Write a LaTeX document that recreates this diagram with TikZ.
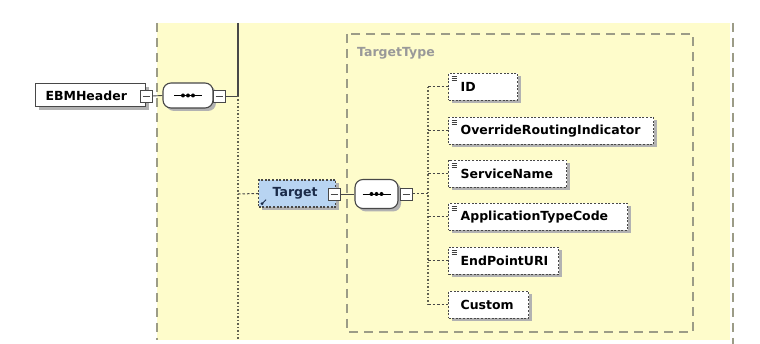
\documentclass[tikz,border=0pt]{standalone}
\usepackage{fontspec}
\setmainfont{DejaVu Sans}
\usetikzlibrary{shadows}
\definecolor{bgyellow}{HTML}{FEFCCB}
\definecolor{lineg}{HTML}{8A8A72}
\definecolor{tblue}{HTML}{B8D4F2}
\definecolor{boxd}{HTML}{484848}
\definecolor{ttext}{HTML}{1A2A48}
\begin{document}
\begin{tikzpicture}[x=1pt,y=-1pt,
  font=\fontsize{12.5}{14}\selectfont\bfseries,
  shad/.style={drop shadow={shadow xshift=3pt,shadow yshift=-3pt,fill=black!30,opacity=1}},
  ebmbox/.style={draw=boxd, line width=1pt, fill=white, shad, anchor=west,
     minimum height=23pt, inner xsep=0pt, align=left},
  optbox/.style={draw=boxd, line width=1.3pt, dash pattern=on 2pt off 1.6pt,
     fill=white, shad, anchor=west, minimum height=27pt, inner xsep=0pt, align=left},
  simpicon/.style={path picture={
     \draw[solid, line width=0.7pt, black!75]
       ([xshift=3pt,yshift=-3pt]path picture bounding box.north west) -- ++(5,0)
       ([xshift=3pt,yshift=-5pt]path picture bounding box.north west) -- ++(5,0)
       ([xshift=3pt,yshift=-7pt]path picture bounding box.north west) -- ++(5,0);}},
  tgtbox/.style={draw=boxd, line width=1.3pt, dash pattern=on 2pt off 1.6pt,
     fill=tblue, shad, anchor=west, minimum height=27pt, inner xsep=0pt, align=left,
     text=ttext},
  expsq/.style={draw=boxd, line width=0.9pt, fill=white, minimum width=12pt,
     minimum height=12pt, inner sep=0pt,
     path picture={\draw[solid, line width=0.8pt, boxd]
       ([xshift=2.5pt]path picture bounding box.west) --
       ([xshift=-2.5pt]path picture bounding box.east);}},
  seqbox/.style={draw=boxd, line width=1.1pt, fill=white, rounded corners=8pt, shad,
     inner sep=0pt,
     path picture={\draw[solid, line width=0.8pt, black]
       ([xshift=-14pt]path picture bounding box.center) --
       ([xshift=14pt]path picture bounding box.center);
       \foreach \d in {-5,0,5}
         \fill[black] ([xshift=\d pt]path picture bounding box.center) circle (2pt);}},
  conn/.style={line width=0.9pt, boxd},
  dconn/.style={line width=1pt, boxd, dash pattern=on 2.5pt off 2pt},
  vdot/.style={line width=1.3pt, lineg!70!black, dash pattern=on 1.3pt off 2.2pt},
  gdash/.style={line width=1.3pt, lineg!85, dash pattern=on 9pt off 6pt}
]
\useasboundingbox (0,0) rectangle (760,344);
\fill[white] (0,0) rectangle (760,344);
% background panel
\fill[bgyellow] (157,23) rectangle (730,340);
\draw[gdash] (157,23) coordinate (lt) -- (157,340) coordinate (lb);
\draw[gdash] (733,23) coordinate (rt) -- (733,344) coordinate (rb);
% TargetType group box
\draw[gdash] (347,34) rectangle (693,332);
\node[anchor=west, text=black!40, inner sep=0pt] (tt) at (357,53) {TargetType};

% EBMHeader
\node[ebmbox, text width=110pt] (ebm) at (35,95.5) {\hspace*{10pt}EBMHeader};
\node[expsq] (sqE) at (146,96) {};
\node[seqbox, minimum width=50pt, minimum height=25pt] (seq1) at (188,95.5) {};
\node[expsq] (sq1) at (219,96) {};
\coordinate (j1) at (238,96);
\coordinate (jtop) at (238,23);
\coordinate (jbot) at (238,340);
\coordinate (jt) at (238,194);
\draw[conn] (sqE.east) -- (seq1.west);
\draw[conn] (sq1.east) -- (j1);
\draw[conn, line width=1.2pt] (jtop) -- (j1);
\draw[vdot] (j1) -- (jbot);

% Target
\node[tgtbox, text width=77pt] (tgt) at (258,193.5) {\hspace*{14pt}Target};
\fill[ttext] ([xshift=4pt,yshift=4pt]tgt.south west) circle (1.6pt);
\draw[ttext, line width=0.9pt] ([xshift=4pt,yshift=4pt]tgt.south west) -- ++(4,-4);
\node[expsq] (sqT) at (334,194) {};
\node[seqbox, minimum width=43pt, minimum height=29pt] (seq2) at (376.5,194) {};
\node[expsq] (sq2) at (406,194) {};
\draw[dconn] (jt) -- (tgt.west);
\draw[conn] (sqT.east) -- (seq2.west);
\coordinate (cj) at (428,194);
\draw[dconn] (sq2.east) -- (cj);

% children
\node[optbox, simpicon, text width=69pt]  (id)  at (448,87)  {\hspace*{12pt}ID};
\node[optbox, simpicon, text width=205pt] (ori) at (448,131) {\hspace*{12pt}OverrideRoutingIndicator};
\node[optbox, simpicon, text width=118pt] (sn)  at (448,174) {\hspace*{12pt}ServiceName};
\node[optbox, simpicon, text width=179pt] (atc) at (448,217) {\hspace*{12pt}ApplicationTypeCode};
\node[optbox, simpicon, text width=110pt] (epu) at (448,261) {\hspace*{12pt}EndPointURI};
\node[optbox, text width=80pt]            (cus) at (448,305) {\hspace*{12pt}Custom};

\coordinate (ctop) at (428,87);
\coordinate (cbot) at (428,305);
\draw[vdot] (ctop) -- (cbot);
\foreach \n/\yy in {id/87, ori/131, sn/174, atc/217, epu/261, cus/305}
  \draw[dconn] (428,\yy) -- (\n.west);
\end{tikzpicture}
\end{document}
